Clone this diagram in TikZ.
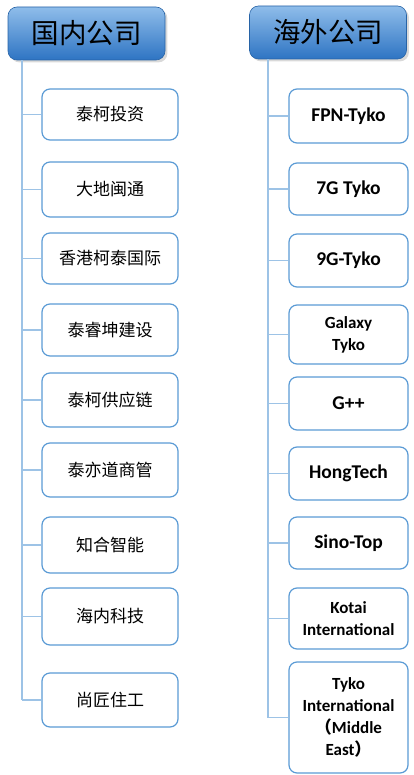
\documentclass[tikz,border=0pt]{standalone}
\usepackage{fontspec}
\setmainfont{Carlito}
\newfontfamily\cjk{Noto Sans CJK SC}
\usetikzlibrary{shadows}

\definecolor{hdtop}{HTML}{8FBDEA}
\definecolor{hdbot}{HTML}{2E74C3}
\definecolor{boxline}{HTML}{5B9BD5}
\definecolor{linkline}{HTML}{9DC3E6}

\tikzset{
  header/.style={draw=hdbot!85!black, line width=0.6pt, rounded corners=9pt,
    top color=hdtop, bottom color=hdbot, minimum width=157pt, minimum height=53pt,
    drop shadow={opacity=0.3}, font=\cjk\fontsize{27.5}{30}\selectfont},
  cnbox/.style={draw=boxline, line width=1.2pt, rounded corners=8pt, fill=white,
    minimum width=136pt, minimum height=53pt, font=\cjk\fontsize{17}{20}\selectfont},
  enbox/.style={draw=boxline, line width=1.2pt, rounded corners=8pt, fill=white,
    minimum width=119pt, minimum height=53pt, align=center,
    font=\bfseries\fontsize{19.5}{22}\selectfont},
  smallen/.style={font=\bfseries\fontsize{17}{22}\selectfont},
  link/.style={draw=linkline, line width=1.6pt}
}

\begin{document}
\begin{tikzpicture}[x=1pt, y=-1pt]
    \useasboundingbox (0,0) rectangle (414,775);

    % Headers
    \node (dom) [header] at (86.5,33.5) {国内公司};
    \node (ovs) [header] at (328,32.5) {海外公司};

    % Trunk ends
    \coordinate (dEnd) at (22,700);
    \coordinate (oEnd) at (268,717.5);

    % Domestic companies
    \node (d1) [cnbox, minimum height=51pt] at (110,114.5) {泰柯投资};
    \node (d2) [cnbox, minimum height=55pt] at (110,189.5) {大地闽通};
    \node (d3) [cnbox, minimum height=51pt] at (110,258.5) {香港柯泰国际};
    \node (d4) [cnbox, minimum height=52pt] at (110,330) {泰睿坤建设};
    \node (d5) [cnbox, minimum height=54pt] at (110,400) {泰柯供应链};
    \node (d6) [cnbox, minimum height=54pt] at (110,470) {泰亦道商管};
    \node (d7) [cnbox, minimum height=56pt] at (110,545) {知合智能};
    \node (d8) [cnbox, minimum height=57pt] at (110,616.5) {海内科技};
    \node (d9) [cnbox, minimum height=54pt] at (110,700) {尚匠住工};

    % Overseas companies
    \node (o1) [enbox, minimum height=54pt] at (348.5,116) {FPN-Tyko};
    \node (o2) [enbox, minimum height=52pt] at (348.5,189) {7G Tyko};
    \node (o3) [enbox] at (348.5,260.5) {9G-Tyko};
    \node (o4) [enbox, smallen, minimum height=59pt] at (348.5,334.5) {Galaxy\\Tyko};
    \node (o5) [enbox] at (348.5,403.5) {G++};
    \node (o6) [enbox] at (348.5,473.5) {HongTech};
    \node (o7) [enbox, minimum height=52pt] at (348.5,543) {Sino-Top};
    \node (o8) [enbox, smallen, minimum height=61pt] at (348.5,618.5) {Kotai\\International};
    \node (o9) [enbox, smallen, minimum height=111pt] at (348.5,717.5)
        {Tyko\\International\\{\cjk （}Middle\\East{\cjk ）}};

    % Trunks
    \draw [link] (dom.south -| dEnd) -- (dEnd);
    \draw [link] (ovs.south -| oEnd) -- (oEnd);

    % Branches
    \draw [link] (d1.west) -- (d1.west -| dEnd);
    \draw [link] (d2.west) -- (d2.west -| dEnd);
    \draw [link] (d3.west) -- (d3.west -| dEnd);
    \draw [link] (d4.west) -- (d4.west -| dEnd);
    \draw [link] (d5.west) -- (d5.west -| dEnd);
    \draw [link] (d6.west) -- (d6.west -| dEnd);
    \draw [link] (d7.west) -- (d7.west -| dEnd);
    \draw [link] (d8.west) -- (d8.west -| dEnd);
    \draw [link] (d9.west) -- (d9.west -| dEnd);
    \draw [link] (o1.west) -- (o1.west -| oEnd);
    \draw [link] (o2.west) -- (o2.west -| oEnd);
    \draw [link] (o3.west) -- (o3.west -| oEnd);
    \draw [link] (o4.west) -- (o4.west -| oEnd);
    \draw [link] (o5.west) -- (o5.west -| oEnd);
    \draw [link] (o6.west) -- (o6.west -| oEnd);
    \draw [link] (o7.west) -- (o7.west -| oEnd);
    \draw [link] (o8.west) -- (o8.west -| oEnd);
    \draw [link] (o9.west) -- (o9.west -| oEnd);
\end{tikzpicture}
\end{document}
